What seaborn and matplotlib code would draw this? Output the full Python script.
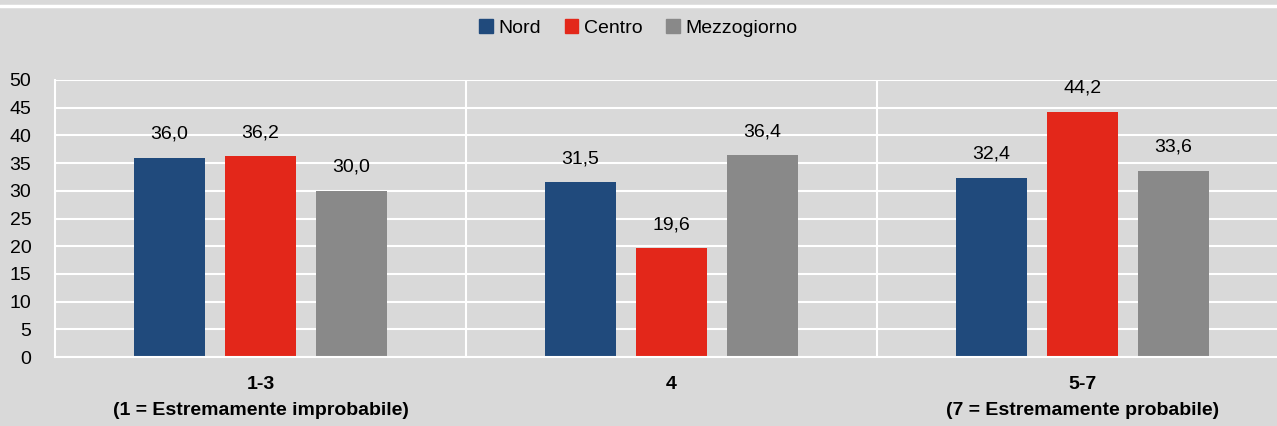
import matplotlib
matplotlib.use("Agg")
import matplotlib.pyplot as plt
import seaborn as sns
import pandas as pd
from matplotlib.lines import Line2D

categories = ["1-3\n(1 = Estremamente improbabile)", "4", "5-7\n(7 = Estremamente probabile)"]
series = ["Nord", "Centro", "Mezzogiorno"]
nord = [36.0, 31.5, 32.4]
centro = [36.2, 19.6, 44.2]
mezzogiorno = [30.0, 36.4, 33.6]
colors = ["#204A7C", "#E3271A", "#898989"]
yticks = [0, 5, 10, 15, 20, 25, 30, 35, 40, 45, 50]

rows = []
for name, vals in zip(series, [nord, centro, mezzogiorno]):
    for c, v in zip(categories, vals):
        rows.append({"cat": c, "serie": name, "val": v})
df = pd.DataFrame(rows)

sns.set_theme(style="white")
font = ["Liberation Sans Narrow", "Liberation Sans", "DejaVu Sans"]
plt.rcParams["font.family"] = font

bg = "#D9D9D9"
fig = plt.figure(figsize=(12.77, 4.26), dpi=100, facecolor=bg)
ax = fig.add_axes([55/1277, 1 - 357/426, 1 - 55/1277, (357 - 80)/426])
ax.set_facecolor(bg)

sns.barplot(data=df, x="cat", y="val", hue="serie", order=categories, hue_order=series,
            palette=colors, width=0.664, gap=0.21, ax=ax, legend=False, saturation=1,
            linewidth=0)

for cont in ax.containers:
    labels = [f"{v:.1f}".replace(".", ",") for v in cont.datavalues]
    ax.bar_label(cont, labels=labels, padding=11, fontsize=14, color="#000000")

ax.set_ylim(0, 50)
ax.set_xlim(-0.5, -0.5 + 1222/411)
ax.set_yticks(yticks)
ax.set_yticklabels([str(t) for t in yticks], fontsize=14, color="#000000")
ax.tick_params(axis="y", length=0, pad=17)
ax.tick_params(axis="x", length=0, pad=14)
for lab in ax.get_xticklabels():
    lab.set_fontweight("bold")
    lab.set_fontsize(14)
    lab.set_linespacing(1.65)
    lab.set_color("#000000")
ax.set_xlabel("")
ax.set_ylabel("")
ax.grid(axis="y", color="white", linewidth=1.5)
ax.set_axisbelow(True)
for x in [0.5, 1.5]:
    ax.axvline(x, color="white", linewidth=1.5, zorder=0.5)
for s in ["top", "right"]:
    ax.spines[s].set_visible(False)
ax.spines["left"].set_color("white")
ax.spines["left"].set_linewidth(1.5)
ax.spines["bottom"].set_color("white")
ax.spines["bottom"].set_linewidth(1.5)

# top white line
fig.add_artist(Line2D([0, 1], [1 - 6/426, 1 - 6/426], color="white", linewidth=2.5))

handles = [plt.Rectangle((0, 0), 1, 1, color=c) for c in colors]
fig.legend(handles, series, loc="center", bbox_to_anchor=(0.5, 1 - 28/426), ncol=3,
           frameon=False, fontsize=14, handlelength=0.7, handleheight=0.7,
           handletextpad=0.3, columnspacing=1.2, labelcolor="#000000")

fig.savefig("out.png", dpi=100, facecolor=bg)
